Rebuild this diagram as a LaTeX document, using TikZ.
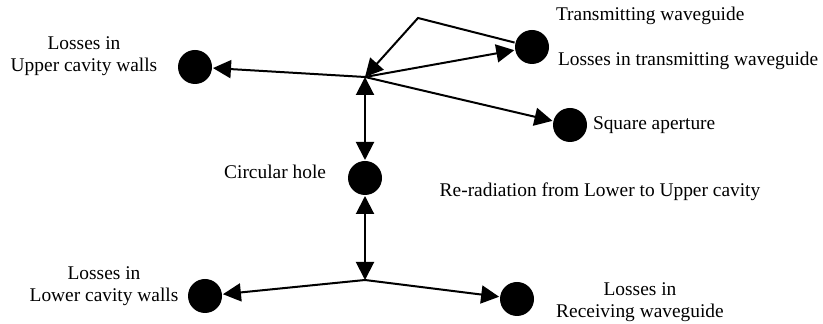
\documentclass[tikz,border=0pt]{standalone}
\usepackage{fontspec}
\setmainfont{Liberation Serif}
\usetikzlibrary{positioning,arrows.meta}

\begin{document}
\begin{tikzpicture}[x=0.5pt, y=-0.5pt, >={Triangle[length=9pt,width=9pt]}, line width=1pt,
    dot/.style={circle, fill=black, inner sep=0pt, minimum size=17pt},
    lbl/.style={font=\fontsize{9.7}{11}\selectfont, align=center, inner sep=0pt}]
    \useasboundingbox (0,0) rectangle (823,324);

    \node[dot] (UW) at (195,67) {};
    \node[dot] (TW) at (532,47) {};
    \node[dot] (SA) at (570,125) {};
    \node[dot] (CH) at (365,178) {};
    \node[dot] (LW) at (205,296) {};
    \node[dot] (RW) at (517,299) {};
    \coordinate (J1) at (365,77);
    \coordinate (J2) at (365,280);
    \coordinate (top) at (418,18);

    \node[lbl] (UWt) at (84,56) {Losses in\\Upper cavity walls};
    \node[lbl, anchor=west] (TWt) at (555,16) {Transmitting waveguide};
    \node[lbl, anchor=west] (TWl) at (557,61) {Losses in transmitting waveguide};
    \node[lbl, right=2pt of SA] (SAt) {Square aperture};
    \node[lbl, left=10pt of CH, yshift=3pt] (CHt) {Circular hole};
    \node[lbl] (RR) at (600,192) {Re-radiation from Lower to Upper cavity};
    \node[lbl] (LWt) at (104,286) {Losses in\\Lower cavity walls};
    \node[lbl] (RWt) at (640,302) {Losses in\\Receiving waveguide};

    \draw[->] (TW) -- (top) -- (J1);
    \draw[->] (J1) -- (TW);
    \draw[->] (J1) -- (UW);
    \draw[->] (J1) -- (SA);
    \draw[<->] (J1) -- (CH);
    \draw[<->] (CH) -- (J2);
    \draw[->] (J2) -- (LW);
    \draw[->] (J2) -- (RW);
\end{tikzpicture}
\end{document}
